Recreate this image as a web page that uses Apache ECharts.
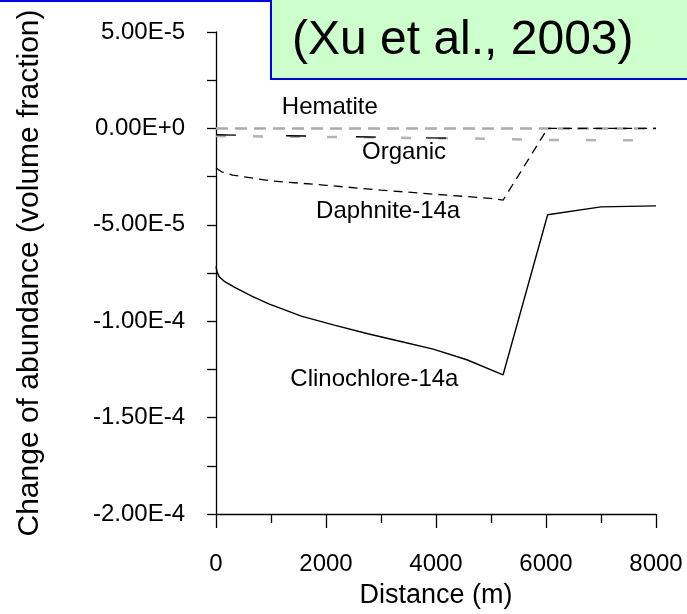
<!DOCTYPE html>
<html>
<head>
<meta charset="utf-8">
<script src="https://cdn.jsdelivr.net/npm/echarts@6/dist/echarts.min.js"></script>
<style>
  html, body { margin: 0; padding: 0; background: #fff; }
  #chart { width: 687px; height: 614px; }
</style>
</head>
<body>
<div id="chart"></div>
<script>
// 数据: 距离 (m) 与体积分数变化
var hematite = [[0, 0], [8000, 0]];
var organicGray = [[0, -4.0e-6], [2000, -4.4e-6], [5000, -5.4e-6], [6000, -6.0e-6], [8000, -6.2e-6]];
var organicBlack = [[0, -3.3e-6], [2500, -4.3e-6], [4950, -5.4e-6]];
var daphnite = [[0, -2.05e-5], [100, -2.25e-5], [300, -2.42e-5], [1000, -2.72e-5], [2000, -2.95e-5],
                [3000, -3.2e-5], [4000, -3.42e-5], [5000, -3.63e-5], [5220, -3.72e-5], [6030, 0], [8000, 0]];
var clinochlore = [[0, -7.15e-5], [20, -7.45e-5], [60, -7.7e-5], [160, -7.95e-5], [340, -8.25e-5],
                   [650, -8.7e-5], [960, -9.1e-5], [1550, -9.74e-5], [2150, -1.02e-4], [2760, -1.065e-4],
                   [3360, -1.105e-4], [3950, -1.145e-4], [4560, -1.2e-4], [5220, -1.278e-4],
                   [6030, -4.48e-5], [7000, -4.07e-5], [8000, -4.02e-5]];
var curveLabels = [
    [2070, 1.08e-5, 'Hematite'],
    [3420, -1.24e-5, 'Organic'],
    [3130, -4.28e-5, 'Daphnite-14a'],
    [2880, -1.3e-4, 'Clinochlore-14a']
];
var yTicks = [5e-5, 0, -5e-5, -1e-4, -1.5e-4, -2e-4];
var yTickLabels = ['5.00E-5', '0.00E+0', '-5.00E-5', '-1.00E-4', '-1.50E-4', '-2.00E-4'];

var myChart = echarts.init(document.getElementById('chart'));
var font = "'Liberation Sans', Arial, sans-serif";

var option = {
    animation: false,
    textStyle: { fontFamily: font },
    grid: { left: 216, right: 31, top: 32, bottom: 96 },
    xAxis: {
        type: 'value',
        min: 0, max: 8000, interval: 2000,
        name: 'Distance (m)',
        nameLocation: 'middle',
        nameGap: 68,
        nameTextStyle: { color: '#000', fontSize: 27, fontFamily: font },
        axisLine: { onZero: false, lineStyle: { color: '#000', width: 1.3 } },
        axisTick: { length: 14, lineStyle: { color: '#000', width: 1.3 } },
        minorTick: { show: true, splitNumber: 2, length: 9, lineStyle: { color: '#000', width: 1.3 } },
        splitLine: { show: false },
        axisLabel: {
            color: '#000', fontSize: 24, margin: 38, fontFamily: font,
            formatter: function (v) { return String(v); }
        }
    },
    yAxis: {
        type: 'value',
        min: -2e-4, max: 5e-5, interval: 5e-5,
        name: 'Change of abundance (volume fraction)',
        nameLocation: 'middle',
        nameGap: 171,
        nameTextStyle: { color: '#000', fontSize: 30, fontFamily: font },
        axisLine: { show: true, lineStyle: { color: '#000', width: 1.3 } },
        axisTick: { length: 9, lineStyle: { color: '#000', width: 1.3 } },
        minorTick: { show: true, splitNumber: 2, length: 9, lineStyle: { color: '#000', width: 1.3 } },
        splitLine: { show: false },
        axisLabel: {
            color: '#000', fontSize: 24, margin: 31, fontFamily: font,
            formatter: function (v) {
                for (var i = 0; i < yTicks.length; i++) {
                    if (Math.abs(v - yTicks[i]) < 1e-9) return yTickLabels[i];
                }
                return '';
            }
        }
    },
    series: [
        {
            name: 'Hematite', type: 'line', data: hematite, symbol: 'none',
            lineStyle: { color: '#aaaaaa', width: 2.5, type: [12, 7] }
        },
        {
            name: 'Organic', type: 'line', data: organicGray, symbol: 'none',
            lineStyle: { color: '#b3b3b3', width: 2.5, type: [10, 27] }
        },
        {
            name: 'Organic-2', type: 'line', data: organicBlack, symbol: 'none',
            lineStyle: { color: '#000', width: 1.3, type: [20, 50] }
        },
        {
            name: 'Daphnite-14a', type: 'line', data: daphnite, symbol: 'none',
            lineStyle: { color: '#000', width: 1.3, type: [9, 6] }
        },
        {
            name: 'Clinochlore-14a', type: 'line', data: clinochlore, symbol: 'none',
            lineStyle: { color: '#000', width: 1.4 }
        },
        {
            // 曲线名称标注
            name: 'labels', type: 'scatter', data: curveLabels, symbolSize: 0,
            silent: true,
            itemStyle: { color: '#000', opacity: 1 },
            label: {
                show: true, position: 'inside', color: '#000', fontSize: 24, fontFamily: font,
                textBorderWidth: 0, opacity: 1,
                formatter: function (p) { return p.data[2]; }
            }
        }
    ],
    graphic: [
        { type: 'rect', shape: { x: 0, y: 0, width: 687, height: 2 }, style: { fill: '#0000ff' } },
        {
            type: 'rect', shape: { x: 271, y: -2, width: 420, height: 81 },
            style: { fill: '#ccffcc', stroke: '#0000ff', lineWidth: 2 }
        },
        {
            type: 'text', left: 292, top: 17,
            style: { text: '(Xu et al., 2003)', fill: '#000', font: "48px 'Liberation Sans', Arial, sans-serif" }
        }
    ]
};

myChart.setOption(option);
</script>
</body>
</html>
